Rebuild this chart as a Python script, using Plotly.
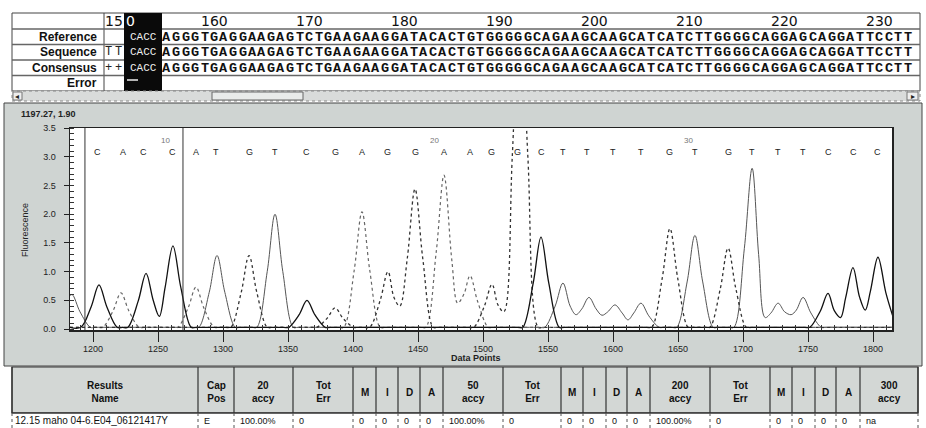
import plotly.graph_objects as go

# ---------------- data ----------------
x_ticks = [1200, 1250, 1300, 1350, 1400, 1450, 1500, 1550, 1600, 1650, 1700, 1750, 1800]
y_ticks = [0.0, 0.5, 1.0, 1.5, 2.0, 2.5, 3.0, 3.5]

base_calls = list("CACCATGTCGAGGAAGGCTTTTGTGTTTCCC")
base_x = [1203.8, 1223.1, 1239.2, 1260.8, 1279.2, 1294.6, 1320.0, 1340.0, 1364.6, 1386.2,
          1406.9, 1426.9, 1447.7, 1470.0, 1490.0, 1506.9, 1526.9, 1544.6, 1561.5, 1580.0,
          1600.0, 1621.5, 1643.8, 1663.1, 1688.5, 1706.9, 1726.9, 1746.2, 1765.4, 1784.6, 1803.8]
base_numbers = ["10", "20", "30"]
base_number_x = [1255.4, 1463.0, 1657.7]
region_bounds = [1193.8, 1269.2]

# trace vertices (data point, fluorescence)
c_x = [1182, 1190.6, 1198.6, 1204.6, 1210.6, 1218.6, 1222.7,
       1226.8, 1234.8, 1240.8, 1246.3, 1251, 1255.5, 1261.5, 1267.5, 1275.5, 1279.5,
       1346.6, 1350.6, 1358.6, 1364.6, 1370.6, 1378.6, 1382.6,
       1526.6, 1530.6, 1538.6, 1544.6, 1550.6, 1558.6, 1562.6,
       1747.4, 1751.4, 1759.4, 1765.4, 1770.2, 1775, 1779, 1784.6, 1789.6, 1794, 1798,
       1803.8, 1809.8, 1815]
c_y = [0.03, 0.03, 0.39, 0.77, 0.39, 0.03, 0.03,
       0.03, 0.49, 0.97, 0.50, 0.22, 0.73, 1.45, 0.73, 0.03, 0.03,
       0.03, 0.03, 0.25, 0.50, 0.25, 0.03, 0.03,
       0.03, 0.03, 0.80, 1.60, 0.80, 0.03, 0.03,
       0.03, 0.03, 0.31, 0.62, 0.32, 0.20, 0.55, 1.07, 0.56, 0.33, 0.66,
       1.25, 0.64, 0.24]

a_x = [1182, 1203.5, 1207.5, 1215.5, 1221.5, 1227.5, 1235.5, 1239.5,
       1261.2, 1265.2, 1273.2, 1279.2, 1285.2, 1293.2, 1297.2,
       1388.9, 1392.9, 1400.9, 1406.9, 1412.9, 1420.9, 1424.9,
       1452, 1456, 1464, 1470, 1476, 1480.5, 1485.5, 1490, 1496, 1504, 1508, 1815]
a_y = [0.03, 0.03, 0.03, 0.32, 0.63, 0.32, 0.03, 0.03,
       0.03, 0.03, 0.37, 0.73, 0.37, 0.03, 0.03,
       0.03, 0.03, 1.02, 2.04, 1.02, 0.03, 0.03,
       0.03, 0.03, 1.34, 2.68, 1.20, 0.45, 0.62, 0.93, 0.47, 0.03, 0.03, 0.03]

g_x = [1182, 1302, 1306, 1314, 1320, 1326, 1334, 1338,
       1368.2, 1372.2, 1380.2, 1386.2, 1392.2, 1400.2, 1404.2,
       1408.9, 1412.9, 1420.9, 1426.9, 1431.5, 1436, 1441.7, 1447.7, 1453.7, 1461.7, 1465.7,
       1488.9, 1492.9, 1500.9, 1506.9, 1511.5, 1516, 1522.5, 1528.5, 1534.5, 1542.5, 1546.5,
       1625.8, 1629.8, 1637.8, 1643.8, 1649.8, 1657.8, 1661.8,
       1670.5, 1674.5, 1682.5, 1688.5, 1694.5, 1702.5, 1706.5, 1815]
g_y = [0.03, 0.03, 0.03, 0.64, 1.28, 0.64, 0.03, 0.03,
       0.03, 0.03, 0.19, 0.37, 0.19, 0.03, 0.03,
       0.03, 0.03, 0.50, 1.00, 0.55, 0.40, 1.22, 2.44, 1.22, 0.03, 0.03,
       0.03, 0.03, 0.39, 0.78, 0.42, 0.30, 3.00, 6.00, 3.00, 0.03, 0.03,
       0.03, 0.03, 0.88, 1.75, 0.88, 0.03, 0.03,
       0.03, 0.03, 0.70, 1.41, 0.70, 0.03, 0.03, 0.03]

t_x = [1182, 1184, 1190, 1198, 1202,
       1277.4, 1281.4, 1289.4, 1295.4, 1301.4, 1309.4, 1313.4,
       1322, 1326, 1334, 1340, 1346, 1354, 1358,
       1543.5, 1547.5, 1555.5, 1561.5, 1567, 1571.5, 1576, 1581.5, 1587, 1591.5, 1596,
       1601.5, 1607, 1611.5, 1616, 1621.5, 1627.5, 1635.5, 1639.5,
       1645, 1649, 1657, 1663, 1669, 1677, 1681,
       1689, 1693, 1701, 1707, 1712, 1717, 1721.5, 1727, 1732, 1737, 1741, 1746.2, 1752.2,
       1760.2, 1764.2, 1815]
t_y = [0.58, 0.60, 0.30, 0.03, 0.03,
       0.03, 0.03, 0.64, 1.28, 0.64, 0.03, 0.03,
       0.03, 0.03, 1.00, 2.00, 1.00, 0.03, 0.03,
       0.03, 0.03, 0.40, 0.80, 0.40, 0.25, 0.35, 0.55, 0.35, 0.24, 0.30,
       0.42, 0.28, 0.16, 0.28, 0.45, 0.23, 0.03, 0.03,
       0.03, 0.03, 0.82, 1.63, 0.82, 0.03, 0.03,
       0.03, 0.03, 1.40, 2.80, 1.30, 0.20, 0.28, 0.45, 0.30, 0.25, 0.33, 0.55, 0.28,
       0.03, 0.03, 0.03]

cursor_text = "1197.27, 1.90"

# top alignment table
ruler_labels = [150, 160, 170, 180, 190, 200, 210, 220, 230]
first_pos = 151
row_labels = ["Reference", "Sequence", "Consensus", "Error"]
cap_bases = "CACC"
reference_seq = "AGGGTGAGGAAGAGTCTGAAGAAGGATACACTGTGGGGGCAGAAGCAAGCATCATCTTGGGGCAGGAGCAGGATTCCTT"
sequence_seq = reference_seq
consensus_seq = reference_seq
seq_prefix = "TT"
cons_prefix = "++"

# bottom results table
header_labels = ["Results<br>Name", "Cap<br>Pos", "20<br>accy", "Tot<br>Err", "M", "I", "D", "A",
                 "50<br>accy", "Tot<br>Err", "M", "I", "D", "A",
                 "200<br>accy", "Tot<br>Err", "M", "I", "D", "A", "300<br>accy"]
row_values = ["12.15 maho 04-6.E04_06121417Y", "E", "100.00%", "0", "0", "0", "0", "0",
              "100.00%", "0", "0", "0", "0", "0", "100.00%", "0", "0", "0", "0", "0", "na"]

# ---------------- layout helpers ----------------
W, H = 926, 428
ML, MR, MT, MB = 70, 34, 128, 98
PW = W - ML - MR
PH = H - MT - MB


def px(x):
    return (x - ML) / PW


def py(y):
    return (H - MB - y) / PH


SANS = "Liberation Sans, Arial, sans-serif"
MONO = "Liberation Mono, Courier New, monospace"
DEJA = "DejaVu Sans, Verdana, sans-serif"

shapes = []
annotations = []


def rect(x0, y0, x1, y1, fill=None, line="#555", lw=1, layer="above", dash=None):
    ln = dict(color=line, width=lw) if line else dict(width=0)
    if dash:
        ln["dash"] = dash
    shapes.append(dict(type="rect", xref="paper", yref="paper",
                       x0=px(x0), x1=px(x1), y0=py(y1), y1=py(y0),
                       fillcolor=fill if fill else "rgba(0,0,0,0)", line=ln, layer=layer))


def hline(x0, x1, y, color="#555", lw=1, dash=None):
    ln = dict(color=color, width=lw)
    if dash:
        ln["dash"] = dash
    shapes.append(dict(type="line", xref="paper", yref="paper",
                       x0=px(x0), x1=px(x1), y0=py(y), y1=py(y), line=ln))


def vline(x, y0, y1, color="#555", lw=1, dash=None):
    ln = dict(color=color, width=lw)
    if dash:
        ln["dash"] = dash
    shapes.append(dict(type="line", xref="paper", yref="paper",
                       x0=px(x), x1=px(x), y0=py(y0), y1=py(y1), line=ln))


def text(x, y, s, size=10, color="#111", family=SANS, xanchor="center", angle=0, bold=False):
    if bold:
        s = "<b>" + s + "</b>"
    annotations.append(dict(xref="paper", yref="paper", x=px(x), y=py(y), text=s,
                            showarrow=False, xanchor=xanchor, yanchor="middle",
                            textangle=angle, borderpad=0,
                            font=dict(size=size, color=color, family=family)))


# ---------------- backgrounds ----------------
rect(4, 103, 922, 366, fill="#cfd4d2", line="#444", lw=1, layer="below")
shapes.append(dict(type="rect", xref="paper", yref="paper", x0=0, x1=1, y0=0, y1=1,
                   fillcolor="white", line=dict(width=0), layer="below"))

# ---------------- top alignment table ----------------
CW = 9.5
X0 = 124.0


def cx(pos):
    return X0 + (pos - first_pos + 0.5) * CW


rect(12, 13, 920, 91, fill="white", line="#444", lw=1)
vline(104, 13, 91, "#444", 1)
for yy in [29, 44.5, 60, 75.5]:
    hline(12, 920, yy, "#666", 1.5)
rect(X0, 13, X0 + 4 * CW, 91, fill="#0a0a0a", line=None)
hline(127, 138, 80, "#eeeeee", 1.5)

row_y = [37, 52.5, 68, 83]
for lab, yy in zip(row_labels, row_y):
    text(98, yy, lab, size=12, bold=True, xanchor="right", color="#111")

for r in ruler_labels:
    if r < first_pos:
        text(X0, 21, str(r)[:-1], size=14, family=DEJA, xanchor="right", color="#111")
        text(X0 + 0.5, 21, str(r)[-1], size=14, family=DEJA, xanchor="left", color="white")
    else:
        text(cx(r), 21, str(r), size=14, family=DEJA, color="#111")

for yy in row_y[:3]:
    text(X0 + 2 * CW, yy, cap_bases, size=11, family=MONO, color="#eeeeee")

start = first_pos + len(cap_bases)
for s, yy in zip([reference_seq, sequence_seq, consensus_seq], row_y[:3]):
    for i, ch in enumerate(s):
        text(cx(start + i), yy, ch, size=13.5, family=MONO, color="#111", bold=True)
for pre, yy in [(seq_prefix, row_y[1]), (cons_prefix, row_y[2])]:
    for i, ch in enumerate(pre):
        text(cx(first_pos - len(pre) + i) - 1, yy, ch, size=12, family=MONO, color="#222")

# scrollbar
rect(12, 91, 920, 101, fill="#d9dbda", line="#888", lw=1, dash="dot")
rect(13, 92, 22, 100, fill="#eeeeee", line="#777", lw=1)
text(17.5, 96, "◂", size=8, color="#222")
rect(212, 92, 303, 100, fill="#e9ebea", line="#666", lw=1)
rect(907, 92, 918, 100, fill="#eeeeee", line="#777", lw=1)
text(912.5, 96, "▸", size=8, color="#222")

# ---------------- chart decorations ----------------
text(20, 114, cursor_text, size=9, bold=True, xanchor="left", color="#222")
text(476, 358, "Data Points", size=9, color="#222", bold=True)
text(25, 230, "Fluorescence", size=9, color="#222", angle=-90)

for b, bx in zip(base_calls, base_x):
    annotations.append(dict(xref="x", yref="y", x=bx, y=3.08, text=b, showarrow=False,
                            font=dict(size=9, color="#222", family=SANS)))
for n, nx in zip(base_numbers, base_number_x):
    annotations.append(dict(xref="x", yref="y", x=nx, y=3.29, text=n, showarrow=False,
                            font=dict(size=8, color="#777", family=SANS)))
for rb in region_bounds:
    shapes.append(dict(type="line", xref="x", yref="paper", x0=rb, x1=rb, y0=0, y1=1,
                       line=dict(color="#333", width=1)))

# ---------------- bottom results table ----------------
col_edges = [12, 198, 234, 293, 353, 376, 398, 420, 443, 503, 561, 583, 606, 627, 650,
             710, 770, 792, 815, 836, 860, 918]
rect(12, 367, 918, 413, fill="#d3d7d5", line="#333", lw=1.2)
rect(12, 413, 918, 440, fill="white", line=None)
hline(12, 918, 413, "#333", 1.5)
for e in col_edges:
    vline(e, 367, 413, "#333", 1.2)
    vline(e, 413, 428, "#555", 1, dash="dot")
for i, lab in enumerate(header_labels):
    c = (col_edges[i] + col_edges[i + 1]) / 2
    text(c, 392, lab, size=10, bold=True, color="#111")
for i, v in enumerate(row_values):
    x = col_edges[i] + (2 if i == 0 else 5)
    text(x, 420.5, v, size=10 if i == 0 else 9, xanchor="left", color="#111")

# ---------------- traces ----------------
fig = go.Figure()
styles = [
    (t_x, t_y, dict(color="#555555", width=1.0)),
    (a_x, a_y, dict(color="#666666", width=1.2, dash="dot")),
    (g_x, g_y, dict(color="#333333", width=1.3, dash="dot")),
    (c_x, c_y, dict(color="#111111", width=1.3)),
]
for xs, ys, ln in styles:
    ln = dict(ln, shape="spline", smoothing=1.0)
    fig.add_trace(go.Scatter(x=xs, y=ys, mode="lines", line=ln, hoverinfo="skip",
                             showlegend=False))

fig.update_layout(
    width=W, height=H,
    margin=dict(l=ML, r=MR, t=MT, b=MB, pad=0),
    paper_bgcolor="rgba(0,0,0,0)",
    plot_bgcolor="rgba(0,0,0,0)",
    shapes=shapes,
    annotations=annotations,
    showlegend=False,
    hovermode=False,
    xaxis=dict(range=[1182.3, 1814.6], tickvals=x_ticks, ticks="outside", ticklen=10,
               tickcolor="#222", tickwidth=1, showline=True, linecolor="#222", linewidth=1.5,
               mirror=True, showgrid=False, zeroline=False,
               tickfont=dict(size=9, color="#222", family=SANS),
               minor=dict(dtick=10, tick0=1200, ticks="inside", ticklen=5,
                          tickcolor="#333", showgrid=False)),
    yaxis=dict(range=[-0.017, 3.502], tickvals=y_ticks, tickformat=".1f", ticks="outside",
               ticklen=5, tickcolor="#222", showline=True, linecolor="#222", linewidth=1.5,
               mirror=True, showgrid=False, zeroline=False, ticklabelstandoff=6,
               tickfont=dict(size=9, color="#222", family=SANS),
               minor=dict(dtick=0.1, tick0=0, ticks="inside", ticklen=4,
                          tickcolor="#333", showgrid=False)),
)

fig.write_html("out.html", config={"displayModeBar": False, "staticPlot": True},
               post_script="document.body.style.margin='0';")
